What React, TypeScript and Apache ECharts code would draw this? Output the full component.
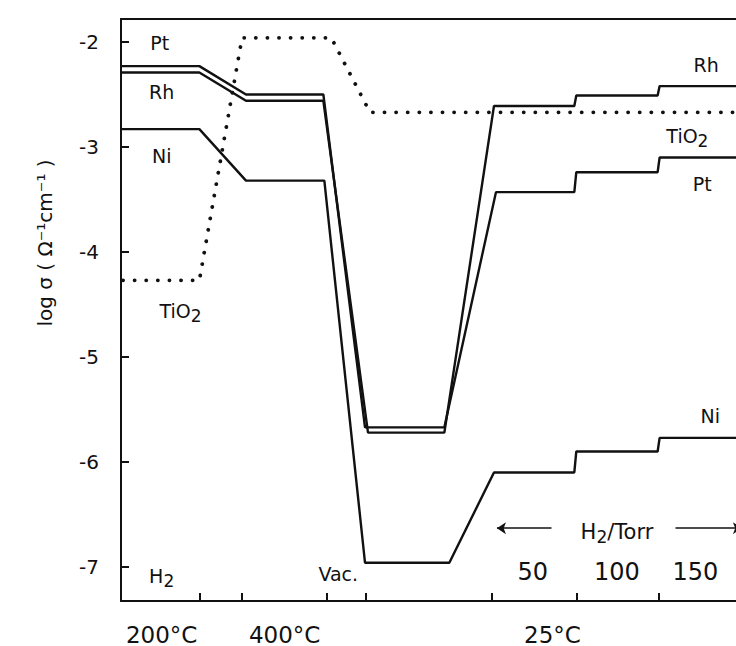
import React, { useEffect, useRef } from "react";
import * as echarts from "echarts";

// x: schematic step coordinate (arbitrary units), y: log sigma
const ptCurve: [number, number][] = [
  [0, -2.23], [7.9, -2.23], [12.6, -2.5], [20.4, -2.5], [24.6, -5.67], [32.6, -5.67],
  [37.8, -3.43], [45.7, -3.43], [45.9, -3.24], [54.1, -3.24], [54.3, -3.1], [62.5, -3.1],
];
const rhCurve: [number, number][] = [
  [0, -2.29], [7.9, -2.29], [12.6, -2.56], [20.4, -2.56], [24.9, -5.72], [32.6, -5.72],
  [37.6, -2.61], [45.7, -2.61], [45.9, -2.51], [54.1, -2.51], [54.3, -2.42], [62.5, -2.42],
];
const niCurve: [number, number][] = [
  [0, -2.83], [7.9, -2.83], [12.6, -3.32], [20.5, -3.32], [24.6, -6.96], [33.1, -6.96],
  [37.6, -6.1], [45.7, -6.1], [45.9, -5.9], [54.1, -5.9], [54.3, -5.77], [62.5, -5.77],
];
const tio2Curve: [number, number][] = [
  [0.2, -4.27], [7.9, -4.27], [12.2, -1.96], [21.2, -1.96], [25.1, -2.67], [62.5, -2.67],
];

const yTicks = [-7, -6, -5, -4, -3, -2];
const xTicks = [7.9, 12.2, 20.7, 24.7, 37.4, 45.9, 54.2];
const xLabelPos = [4.1, 16.5, 43.5];
const xLabelText = ["200°C", "400°C", "25°C"];

const curveLabels = [
  { name: "Pt", value: [3.9, -2.01] },
  { name: "Rh", value: [4.1, -2.48] },
  { name: "Ni", value: [4.1, -3.09] },
  { name: "TiO{s|2}", value: [6.0, -4.56] },
  { name: "H{s|2}", value: [4.1, -7.09] },
  { name: "Rh", value: [59.0, -2.22] },
  { name: "TiO{s|2}", value: [57.1, -2.9] },
  { name: "Pt", value: [58.6, -3.35] },
  { name: "Ni", value: [59.4, -5.56] },
];
const smallLabels = [{ name: "Vac.", value: [21.9, -7.07] }];
const pressureLabels = [
  { name: "50", value: [41.5, -7.05] },
  { name: "100", value: [50.0, -7.05] },
  { name: "150", value: [57.9, -7.05] },
];
const pressureTitle = [{ name: "H{s|2}/Torr", value: [50.0, -6.67] }];
const arrowLines = [
  { coords: [[43.4, -6.63], [37.9, -6.63]] },
  { coords: [[55.9, -6.63], [62.6, -6.63]] },
];

const INK = "#111111";
const FONT = "DejaVu Sans";

export default function App() {
  const ref = useRef<HTMLDivElement>(null);
  useEffect(() => {
    if (!ref.current) return;
    const chart = echarts.init(ref.current, undefined, { renderer: "svg" });
    const rich = {
      s: { fontSize: 17, fontFamily: FONT, color: INK, padding: [10, 0, 0, 0] },
    };
    const labelSeries = (data: any[], fontSize: number) => ({
      type: "scatter",
      data,
      symbolSize: 0,
      silent: true,
      itemStyle: { opacity: 1 },
      label: {
        show: true,
        position: "inside",
        formatter: (p: any) => p.name,
        fontSize,
        fontFamily: FONT,
        color: INK,
        opacity: 1,
        rich,
      },
    });
    const lineSeries = (data: [number, number][]) => ({
      type: "line",
      data,
      symbol: "none",
      lineStyle: { color: INK, width: 2.4 },
    });
    chart.setOption({
      animation: false,
      backgroundColor: "#ffffff",
      grid: { left: 121, top: 19, width: 620, height: 582 },
      xAxis: [
        {
          type: "value",
          min: 0,
          max: 62,
          axisLine: { show: true, lineStyle: { color: INK, width: 2 } },
          axisTick: {
            show: true,
            inside: true,
            length: 8,
            customValues: xTicks,
            lineStyle: { color: INK, width: 2 },
          },
          axisLabel: {
            show: true,
            customValues: xLabelPos,
            formatter: (v: number) => {
              const i = xLabelPos.findIndex((p) => Math.abs(p - v) < 1e-6);
              return i >= 0 ? xLabelText[i] : "";
            },
            fontSize: 23,
            fontFamily: FONT,
            color: INK,
            margin: 22,
          },
          splitLine: { show: false },
        },
        {
          type: "value",
          position: "top",
          min: 0,
          max: 62,
          axisLine: { show: true, lineStyle: { color: INK, width: 2 } },
          axisTick: { show: false },
          axisLabel: { show: false },
          splitLine: { show: false },
        },
      ],
      yAxis: {
        type: "value",
        min: -7.324,
        max: -1.781,
        axisLine: { show: true, lineStyle: { color: INK, width: 2 } },
        axisTick: {
          show: true,
          inside: true,
          length: 8,
          customValues: yTicks,
          lineStyle: { color: INK, width: 2 },
        },
        axisLabel: {
          show: true,
          customValues: yTicks,
          formatter: (v: number) => String(v),
          fontSize: 20,
          fontFamily: FONT,
          color: INK,
          margin: 22,
        },
        splitLine: { show: false },
      },
      graphic: [
        {
          type: "text",
          x: 45,
          y: 243,
          rotation: Math.PI / 2,
          style: {
            text: "log σ ( Ω⁻¹cm⁻¹ )",
            fontSize: 20,
            fontFamily: FONT,
            fill: INK,
            align: "center",
            verticalAlign: "middle",
          },
        },
      ],
      series: [
        lineSeries(ptCurve),
        lineSeries(rhCurve),
        lineSeries(niCurve),
        {
          type: "line",
          data: tio2Curve,
          symbol: "none",
          lineStyle: { color: INK, width: 3.8, type: [0.1, 11.5], cap: "round" },
        },
        {
          type: "lines",
          coordinateSystem: "cartesian2d",
          data: arrowLines,
          symbol: ["none", "arrow"],
          symbolSize: [7, 9],
          silent: true,
          lineStyle: { color: INK, width: 1.6, opacity: 1 },
        },
        labelSeries(curveLabels, 19),
        labelSeries(smallLabels, 19),
        labelSeries(pressureLabels, 24),
        labelSeries(pressureTitle, 21),
      ],
    });
    return () => chart.dispose();
  }, []);
  return (
    <div
      ref={ref}
      style={{ position: "absolute", left: 0, top: 0, width: 736, height: 646 }}
    />
  );
}
